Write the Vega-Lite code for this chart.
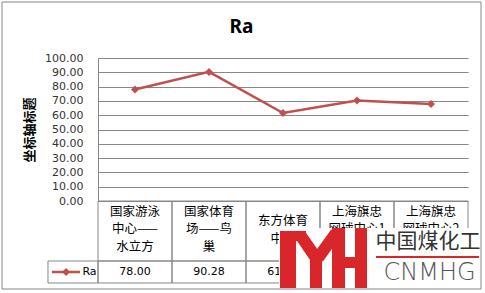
{
  "$schema": "https://vega.github.io/schema/vega-lite/v6.json",
  "width": 370,
  "height": 143,
  "autosize": {"type": "none"},
  "padding": {"left": 98, "top": 58, "right": 17, "bottom": 92},
  "background": "#ffffff",
  "config": {
    "view": {"stroke": null},
    "font": "DejaVu Sans",
    "axisY": {"tickCount": 10, "format": ".2f",
              "grid": true, "gridColor": "#878787", "gridWidth": 1, "labelOverlap": false,
              "domainColor": "#878787", "ticks": false, "labelPadding": 15,
              "labelFontSize": 11, "labelColor": "#333333", "labelFont": "DejaVu Sans",
              "titleFont": "Noto Sans CJK SC", "titleFontWeight": "bold",
              "titleFontSize": 13, "titleColor": "#000000", "titlePadding": 8}
  },
  "datasets": {
    "ra": [
      {"site": "国家游泳中心——水立方", "label": "国家游泳\n中心——\n水立方", "value": 78.00},
      {"site": "国家体育场——鸟巢", "label": "国家体育\n场——鸟\n巢", "value": 90.28},
      {"site": "东方体育中心", "label": "东方体育\n中心", "value": 61.50},
      {"site": "上海旗忠网球中心1", "label": "上海旗忠\n网球中心1", "value": 70.20},
      {"site": "上海旗忠网球中心2", "label": "上海旗忠\n网球中心2", "value": 67.80}
    ]
  },
  "resolve": {"scale": {"x": "independent"}},
  "layer": [
    {
      "data": {"name": "ra"},
      "encoding": {
        "x": {"field": "site", "type": "nominal", "sort": null, "bandPosition": 0.5,
              "scale": {"type": "band", "paddingInner": 0, "paddingOuter": 0}, "axis": null},
        "y": {"field": "value", "type": "quantitative", "title": "坐标轴标题",
              "scale": {"domain": [0, 100], "nice": false, "zero": true}}
      },
      "layer": [
        {"mark": {"type": "line", "color": "#C0504D", "strokeWidth": 2.5}},
        {"mark": {"type": "point", "shape": "diamond", "filled": true, "size": 64, "color": "#C0504D", "opacity": 1}}
      ]
    },
    {
      "data": {"name": "ra"},
      "encoding": {
        "x": {"field": "site", "type": "nominal", "sort": null,
              "scale": {"type": "band", "paddingInner": 0, "paddingOuter": 0}, "axis": null}
      },
      "layer": [
        {"mark": {"type": "rect", "fill": null, "stroke": "#878787", "strokeWidth": 1},
         "encoding": {"y": {"datum": 0, "type": "quantitative", "title": "坐标轴标题"}, "y2": {"datum": -41.96}}},
        {"mark": {"type": "rect", "fill": null, "stroke": "#878787", "strokeWidth": 1},
         "encoding": {"y": {"datum": -41.96, "type": "quantitative", "title": "坐标轴标题"}, "y2": {"datum": -57.34}}},
        {"transform": [{"filter": "datum.site !== '东方体育中心'"}],
         "mark": {"type": "text", "lineBreak": "\n", "lineHeight": 17.5, "baseline": "middle", "align": "center",
                  "font": "Noto Sans CJK SC", "fontSize": 12.5, "color": "#000000"},
         "encoding": {"x": {"field": "site", "type": "nominal", "sort": null, "bandPosition": 0.5,
                            "scale": {"type": "band", "paddingInner": 0, "paddingOuter": 0}, "axis": null},
                      "y": {"datum": -7.69, "type": "quantitative", "title": "坐标轴标题"},
                      "text": {"field": "label"}}},
        {"transform": [{"filter": "datum.site === '东方体育中心'"}],
         "mark": {"type": "text", "lineBreak": "\n", "lineHeight": 17.5, "baseline": "middle", "align": "center",
                  "font": "Noto Sans CJK SC", "fontSize": 12.5, "color": "#000000"},
         "encoding": {"x": {"field": "site", "type": "nominal", "sort": null, "bandPosition": 0.5,
                            "scale": {"type": "band", "paddingInner": 0, "paddingOuter": 0}, "axis": null},
                      "y": {"datum": -13.99, "type": "quantitative", "title": "坐标轴标题"},
                      "text": {"field": "label"}}},
        {"mark": {"type": "text", "baseline": "middle", "align": "center", "font": "DejaVu Sans", "fontSize": 11, "color": "#000000"},
         "encoding": {"x": {"field": "site", "type": "nominal", "sort": null, "bandPosition": 0.5,
                            "scale": {"type": "band", "paddingInner": 0, "paddingOuter": 0}, "axis": null},
                      "y": {"datum": -49.65, "type": "quantitative", "title": "坐标轴标题"},
                      "text": {"field": "value", "type": "quantitative", "format": ".2f"}}}
      ]
    },
    {
      "data": {"values": [{"series": "Ra"}]},
      "encoding": {
        "x": {"datum": 0, "type": "quantitative", "scale": {"domain": [0, 5], "nice": false, "zero": false}, "axis": null}
      },
      "layer": [
        {"mark": {"type": "text", "align": "center", "baseline": "middle", "font": "Noto Sans", "fontWeight": "bold", "fontSize": 19, "color": "#000000"},
         "encoding": {"x": {"datum": 1.939, "type": "quantitative"},
                      "y": {"datum": 121.7, "type": "quantitative", "title": "坐标轴标题"},
                      "text": {"field": "series"}}},
        {"mark": {"type": "rect", "fill": null, "stroke": "#878787", "strokeWidth": 1},
         "encoding": {"x": {"datum": -0.676, "type": "quantitative"},
                      "x2": {"datum": 0},
                      "y": {"datum": -41.96, "type": "quantitative", "title": "坐标轴标题"}, "y2": {"datum": -57.34}}},
        {"mark": {"type": "rule", "color": "#C0504D", "strokeWidth": 2.5},
         "encoding": {"x": {"datum": -0.622, "type": "quantitative"},
                      "x2": {"datum": -0.243},
                      "y": {"datum": -49.65, "type": "quantitative", "title": "坐标轴标题"}}},
        {"mark": {"type": "point", "shape": "diamond", "filled": true, "size": 64, "color": "#C0504D", "opacity": 1},
         "encoding": {"x": {"datum": -0.432, "type": "quantitative"},
                      "y": {"datum": -49.65, "type": "quantitative", "title": "坐标轴标题"}}},
        {"mark": {"type": "text", "align": "left", "baseline": "middle", "font": "DejaVu Sans", "fontSize": 11, "color": "#000000"},
         "encoding": {"x": {"datum": -0.21, "type": "quantitative"},
                      "y": {"datum": -49.65, "type": "quantitative", "title": "坐标轴标题"},
                      "text": {"field": "series"}}},
        {"mark": {"type": "rect", "color": "#ffffff"},
         "encoding": {"x": {"datum": 2.446, "type": "quantitative"}, "x2": {"datum": 5.169},
                      "y": {"datum": -18.88, "type": "quantitative", "title": "坐标轴标题"}, "y2": {"datum": -60.84}}},
        {"mark": {"type": "rect", "fill": null, "stroke": "#878787", "strokeWidth": 1},
         "encoding": {"x": {"datum": -1.297, "type": "quantitative"},
                      "x2": {"datum": 5.176},
                      "y": {"datum": 139.16, "type": "quantitative", "title": "坐标轴标题"}, "y2": {"datum": -61.54}}},
        {"mark": {"type": "rect", "color": "#D9262A"},
         "encoding": {"x": {"datum": 2.4595, "type": "quantitative"}, "x2": {"datum": 2.6757},
                      "y": {"datum": -20.98, "type": "quantitative", "title": "坐标轴标题"}, "y2": {"datum": -60.84}}},
        {"mark": {"type": "rect", "color": "#D9262A"},
         "encoding": {"x": {"datum": 2.4595, "type": "quantitative"}, "x2": {"datum": 2.8108},
                      "y": {"datum": -20.98, "type": "quantitative", "title": "坐标轴标题"}, "y2": {"datum": -27.97}}},
        {"mark": {"type": "rule", "color": "#D9262A", "strokeWidth": 12},
         "encoding": {"x": {"datum": 2.7297, "type": "quantitative"}, "x2": {"datum": 2.9459},
                      "y": {"datum": -23.5, "type": "quantitative", "title": "坐标轴标题"}, "y2": {"datum": -39.86}}},
        {"mark": {"type": "rect", "color": "#D9262A"},
         "encoding": {"x": {"datum": 2.8649, "type": "quantitative"}, "x2": {"datum": 3.027},
                      "y": {"datum": -38.46, "type": "quantitative", "title": "坐标轴标题"}, "y2": {"datum": -60.84}}},
        {"mark": {"type": "rule", "color": "#D9262A", "strokeWidth": 12},
         "encoding": {"x": {"datum": 2.973, "type": "quantitative"}, "x2": {"datum": 3.2162},
                      "y": {"datum": -39.86, "type": "quantitative", "title": "坐标轴标题"}, "y2": {"datum": -22.38}}},
        {"mark": {"type": "rect", "color": "#D9262A"},
         "encoding": {"x": {"datum": 3.1622, "type": "quantitative"}, "x2": {"datum": 3.3378},
                      "y": {"datum": -18.88, "type": "quantitative", "title": "坐标轴标题"}, "y2": {"datum": -60.84}}},
        {"mark": {"type": "rect", "color": "#D9262A"},
         "encoding": {"x": {"datum": 3.3378, "type": "quantitative"}, "x2": {"datum": 3.5},
                      "y": {"datum": -39.16, "type": "quantitative", "title": "坐标轴标题"}, "y2": {"datum": -46.85}}},
        {"mark": {"type": "rect", "color": "#D9262A"},
         "encoding": {"x": {"datum": 3.473, "type": "quantitative"}, "x2": {"datum": 3.6351},
                      "y": {"datum": -18.88, "type": "quantitative", "title": "坐标轴标题"}, "y2": {"datum": -60.84}}},
        {"mark": {"type": "text", "align": "center", "baseline": "middle", "font": "Noto Sans CJK SC", "fontSize": 21, "color": "#333333"},
         "encoding": {"x": {"datum": 4.459, "type": "quantitative"},
                      "y": {"datum": -28.67, "type": "quantitative", "title": "坐标轴标题"},
                      "text": {"value": "中国煤化工"}}},
        {"mark": {"type": "rule", "color": "#D9262A", "strokeWidth": 2},
         "encoding": {"x": {"datum": 3.757, "type": "quantitative"},
                      "x2": {"datum": 5.149},
                      "y": {"datum": -39.16, "type": "quantitative", "title": "坐标轴标题"}}},
        {"mark": {"type": "text", "align": "center", "baseline": "middle", "font": "DejaVu Sans", "fontWeight": 200, "fontSize": 24, "letterSpacing": 3, "color": "#555555"},
         "encoding": {"x": {"datum": 4.48, "type": "quantitative"},
                      "y": {"datum": -50.35, "type": "quantitative", "title": "坐标轴标题"},
                      "text": {"value": "CNMHG"}}}
      ]
    }
  ]
}
